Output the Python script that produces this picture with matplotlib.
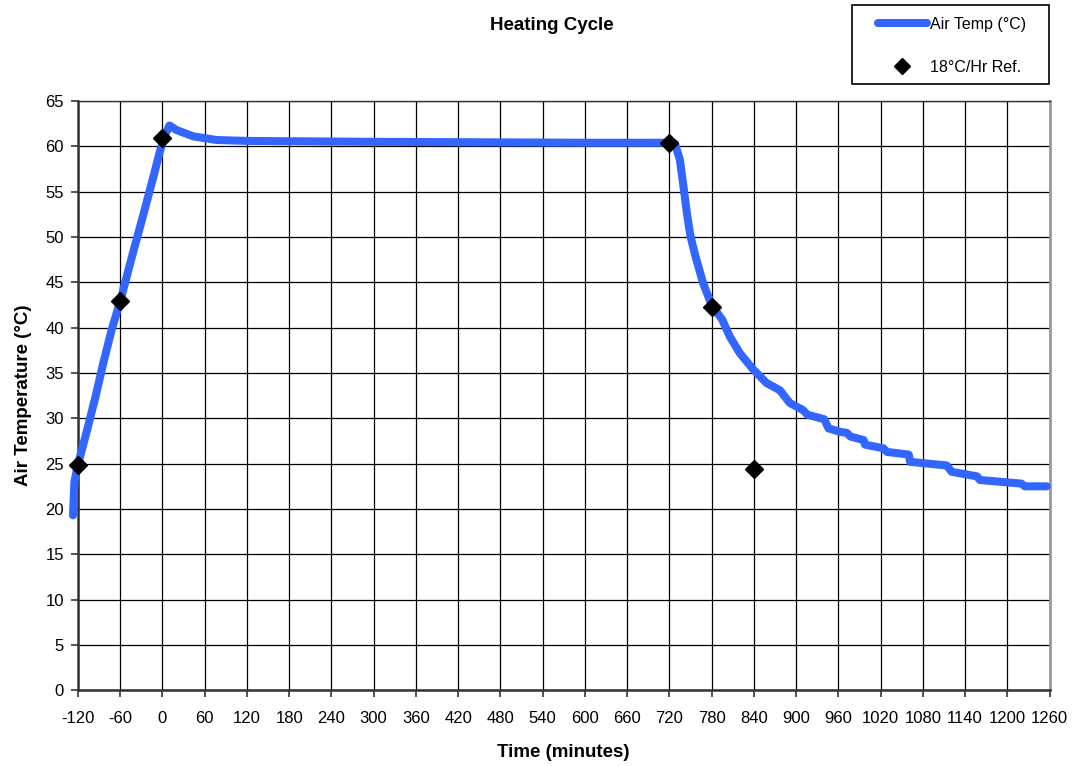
import numpy as np
import matplotlib
matplotlib.use("Agg")
import matplotlib.pyplot as plt
from matplotlib.lines import Line2D
from matplotlib.patches import Rectangle

plt.rcParams['font.family'] = ['Liberation Sans Narrow', 'Liberation Sans', 'DejaVu Sans']
plt.rcParams['axes.unicode_minus'] = False

# air temperature trace (minutes, degC)
time_min = [-127, -125, -120, -107, -95, -84, -72, -60, -41, -27, -13,
            -3, 4, 10, 20, 44, 77, 120, 300, 600, 720, 728, 735, 740, 745,
            750, 757, 768, 780, 795, 806, 820, 839, 858, 877, 891, 910, 916,
            940, 946, 963, 972, 977, 996, 998, 1024, 1029, 1060, 1062, 1114,
            1121, 1157, 1161, 1220, 1225, 1256]
air_temp = [19.3, 23.0, 24.9, 28.7, 32.4, 36.1, 39.8, 42.9, 48.5, 52.5,
            56.6, 59.6, 61.3, 62.3, 61.8, 61.1, 60.7, 60.6, 60.5, 60.4, 60.4,
            60.3, 58.5, 55.6, 52.6, 50.1, 47.9, 44.9, 42.5, 40.9, 39.0, 37.2,
            35.4, 33.9, 33.1, 31.7, 30.9, 30.4, 29.9, 28.9, 28.5, 28.4, 28.0,
            27.6, 27.1, 26.7, 26.3, 26.0, 25.2, 24.8, 24.1, 23.6, 23.2, 22.8,
            22.5, 22.5]

# 18 degC/hr reference points
ref_time = [-120, -60, 0, 720, 780, 840]
ref_temp = [24.8, 42.9, 60.9, 60.4, 42.3, 24.4]

xticks = list(range(-120, 1261, 60))
yticks = list(range(0, 66, 5))

fig = plt.figure(figsize=(10.78, 7.66), dpi=100)
ax = fig.add_axes([0.0723, 0.0988, 0.9013, 0.7693])

line_color = '#3366FF'
ax.plot(time_min, air_temp, color=line_color, lw=5.8, solid_capstyle='round',
        solid_joinstyle='round', zorder=3, clip_on=False)
ax.plot(ref_time, ref_temp, 'D', color='black', markersize=9, zorder=4,
        clip_on=False)

ax.set_xlim(-120, 1260)
ax.set_ylim(0, 65)
ax.set_xticks(xticks)
ax.set_yticks(yticks)
ax.grid(True, color='black', lw=0.9)
ax.set_axisbelow(True)
ax.tick_params(labelsize=12, length=5, width=1.2, color='#333333')
ax.tick_params(axis='x', pad=10)
ax.tick_params(axis='y', pad=5)
for s in ['left', 'bottom']:
    ax.spines[s].set_color('#333333')
    ax.spines[s].set_linewidth(1.8)
ax.spines['right'].set_color('#999999')
ax.spines['right'].set_linewidth(2)
ax.spines['top'].set_color('#333333')
ax.spines['top'].set_linewidth(1)

ax.set_xlabel('Time (minutes)', fontsize=13.5, fontweight='bold',
              family=['Liberation Sans', 'DejaVu Sans'], labelpad=13)
ax.set_ylabel('Air Temperature (°C)', fontsize=13.5, fontweight='bold',
              family=['Liberation Sans', 'DejaVu Sans'], labelpad=10)

fig.text(0.512, 0.967, 'Heating Cycle', ha='center', va='center', fontsize=13.5,
         fontweight='bold', family=['Liberation Sans', 'DejaVu Sans'])

# legend box drawn separately
fig.patches.append(Rectangle((0.7904, 0.8903), 0.1827, 0.1031,
                             transform=fig.transFigure, fill=False,
                             edgecolor='black', lw=1.2))
handles = [Line2D([], [], color=line_color, lw=5.8, solid_capstyle='round'),
           Line2D([], [], ls='none', marker='D', color='black', markersize=8)]
leg = fig.legend(handles, ['Air Temp (°C)', '18°C/Hr Ref.'],
                 loc='center', bbox_to_anchor=(0.8828, 0.9399),
                 fontsize=11.5, frameon=False, handlelength=3.1,
                 labelspacing=1.75, borderpad=0, handletextpad=0.15,
                 borderaxespad=0)

fig.savefig('out.png', dpi=100)
